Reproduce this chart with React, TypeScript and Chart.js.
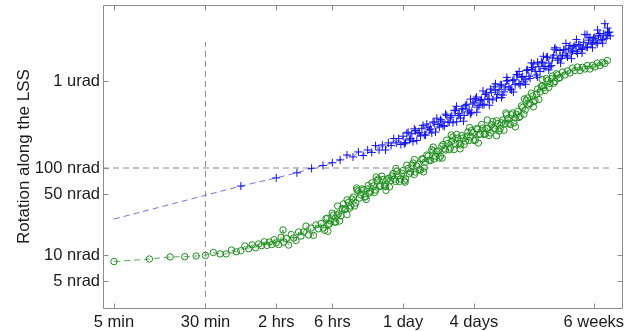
import { useEffect, useRef } from 'react';
import { Chart, registerables } from 'chart.js';

Chart.register(...registerables);

// x in minutes, y in nrad
const xTickValues = [5, 30, 120, 360, 1440, 5760, 60480];
const xTickLabels = ['5 min', '30 min', '2 hrs', '6 hrs', '1 day', '4 days', '6 weeks'];
const yTickValues = [5, 10, 50, 100, 1000];
const yTickLabels = ['5 nrad', '10 nrad', '50 nrad', '100 nrad', '1 urad'];

// blue "+" series (connected by dashed line)
const blueTimes = [
  5, 60, 120, 180, 240, 300, 360, 420, 480, 540, 600, 660, 720, 780, 840, 900, 960, 1020, 1080, 1140, 1200, 1260, 1320, 1380,
  1440, 1510, 1590, 1670, 1750, 1840, 1930, 2030, 2130, 2240, 2350, 2470, 2590, 2720, 2860, 3000, 3150, 3310, 3470, 3650,
  3830, 4020, 4220, 4430, 4650, 4880, 5130, 5380, 5650, 5940, 6230, 6540, 6870, 7220, 7580, 7960, 8350, 8770, 9210, 9670,
  10150, 10660, 11190, 11750, 12340, 12960, 13600, 14280, 15000, 15750, 16540, 17360, 18230, 19140, 20100, 21100, 22160,
  23270, 24430, 25650, 26940, 28280, 29700, 31180, 31900, 32740, 33500, 34380, 35200, 36100, 37000, 37900, 38800, 39800,
  40800, 41790, 42800, 43880, 45000, 46070, 47200, 48380, 49600, 50800, 52000, 53340, 54600, 56000, 57400, 58800, 60200,
  61740, 63200, 64830, 66400, 68070, 69700, 71480, 73200, 75050, 76900, 78800, 80400, 82000, 83500,
];
const blueValues = [
  25.9, 62, 77, 88, 99, 107, 115, 124, 141, 134, 153, 139, 161, 151, 181, 161, 184, 161, 194, 181, 218, 194, 218, 186,
  232, 196, 258, 217, 201, 269, 252, 234, 309, 239, 295, 281, 338, 259, 317, 360, 307, 416, 336, 383,
  331, 457, 402, 375, 479, 520, 441, 419, 545, 626, 500, 595, 531, 702, 619, 807, 607, 786, 703, 905,
  689, 855, 1017, 806, 1010, 908, 1180, 900, 1127, 1033, 1344, 1071, 1427, 1295, 1642, 1284, 1612,
  1470, 1891, 1454, 1835, 2410, 1735, 2240, 1820, 1953, 2300, 2278, 1980, 1886, 2380, 2556, 2100, 2217,
  2480, 2578, 2200, 2073, 2620, 2601, 2300, 2380, 2780, 3435, 2450, 2456, 2950, 3156, 2650, 2752, 3100,
  3210, 2800, 2688, 3350, 3509, 2950, 3000, 3480, 4561, 3100, 3327, 3600, 3651, 3300,
];
// further blue "+" samples inside the dense cloud
const blueCloudTimes = [
  1475, 1550, 1630, 1710, 1795, 1885, 1980, 2080, 2185, 2295, 2410, 2530, 2655, 2790, 2930, 3075, 3230, 3390, 3560, 3740,
  3925, 4120, 4325, 4540, 4765, 5005, 5255, 5515, 5795, 6085, 6385, 6705, 7045, 7400, 7770, 8155, 8560, 8990, 9440, 9910,
  10400, 10920, 11470, 12040, 12650, 13280, 13940, 14640, 15370, 16140, 16950, 17790, 18680, 19620, 20600, 21630, 22710,
  23850, 25040, 26290, 27610, 28990, 30440,
  4100, 4700, 5400, 6100, 6900, 7800, 8800, 9900, 11000, 12500, 14000, 15900, 17800, 20000, 22500, 25000, 28000, 31500,
  35000, 39000, 43000, 48000, 53000, 59000, 65000, 72000, 79000,
];
const blueCloudValues = [
  190, 252, 210, 247, 282, 207, 255, 286, 240, 320, 274, 253, 330, 374, 296, 345, 301, 401, 337, 400,
  461, 340, 421, 477, 402, 539, 464, 433, 571, 654, 522, 614, 541, 728, 618, 740, 857, 637, 795, 896,
  750, 1000, 855, 791, 1036, 1180, 936, 1101, 976, 1325, 1132, 1360, 1574, 1170, 1460, 1654, 1396,
  1870, 1610, 1502, 1982, 2269, 1807,
  512, 345, 619, 438, 768, 527, 929, 645, 1101, 746, 1285, 916, 1615, 1104, 1925, 1344, 2318, 1608,
  2705, 1808, 3005, 2087, 3400, 2407, 3856, 2720, 4063,
];

// green "o" series (connected by dashed line)
const greenTimes = [
  5, 10, 15, 20, 25, 30, 35, 40, 45, 50, 55, 60, 65, 70, 75, 80, 85, 90, 95, 100, 105, 110, 115, 120,
  126, 132, 137, 139, 146, 153, 161, 169, 177, 186, 195, 205, 215, 226, 237, 249, 261, 274, 288, 302, 318, 333, 350,
  368, 386, 405, 426, 447, 469, 493, 517, 543, 570, 599, 629, 660, 693, 728, 764, 803, 843, 885, 929, 976, 1024, 1076,
  1130, 1186, 1245, 1308, 1373, 1442, 1514, 1589, 1669, 1752, 1840, 1932, 2029, 2130, 2237, 2348, 2466, 2589, 2719,
  2855, 2997, 3147, 3305, 3470, 3643, 3826, 4017, 4218, 4429, 4650, 4883, 5127, 5383, 5652, 5935, 6232, 6543, 6871,
  7214, 7575, 7954, 8351, 8769, 9207, 9668, 10151, 10659, 11192, 11751, 12339, 12956, 13604, 14284, 14998, 15748,
  16535, 17362, 18230, 19142, 20099, 21104, 22159, 23267, 24430, 25652, 26934, 28281, 29695, 31180, 32739, 34376,
  36095, 37899, 39794, 41784, 43873, 46067, 48370, 50789, 53328, 55995, 58794, 61734, 64821, 68062, 71465, 75038, 78790,
];
const greenValues = [
  8.4, 9.0, 9.5, 9.56, 9.74, 9.9, 10.7, 10.3, 10.3, 11.4, 10.9, 11.2, 12.7, 11.8, 13.1, 12.1, 13.4, 12.8, 14.2, 12.9, 14.1, 13.2, 15.0, 13.8,
  13.2, 16.0, 19.4, 14.1, 15.5, 13.0, 17.2, 15.7, 14.7, 18.4, 16.5, 18.4, 21.5, 17.0, 20.4, 16.8, 22.2, 20.0, 23.0, 20.4, 26.1, 22.4, 24.6,
  28.8, 23.9, 29.6, 28.1, 38.6, 33.8, 40.1, 36.6, 46.4, 39.6, 54.4, 49.0, 55.9, 47.0, 62.9, 53.7, 62.1, 55.9, 74.7, 62.1, 73.8, 61.3, 75.7,
  71.8, 86.5, 70.0, 80.9, 74.7, 93.6, 74.7, 98.7, 89.9, 114, 89.9, 110, 94.8, 127, 117, 137, 122, 157, 137,
  157, 137, 186, 161, 191, 170, 227, 189, 221, 184, 221, 204, 259, 227, 253, 210, 281, 246, 288,
  246, 288, 253, 342, 281, 325, 284, 356, 325, 366, 316, 429, 376, 446, 391, 496, 464,
  638, 551, 672, 597, 809, 747, 876, 778, 1013, 936, 1141, 987, 1172, 1097, 1269, 1172,
  1303, 1236, 1411, 1320, 1448, 1320, 1437, 1374, 1508, 1374, 1508, 1448, 1610, 1508, 1632, 1589, 1720,
];
// further green "o" samples inside the dense cloud
const greenCloudTimes = [
  310, 325, 341, 359, 377, 395, 415, 436, 458, 481, 505, 530, 556, 584, 614, 644, 676, 710, 746, 783,
  823, 864, 907, 952, 1000, 1050, 1103, 1158, 1215, 1276, 1340, 1407, 1478, 1551, 1629, 1710, 1796, 1886, 1980, 2080,
  2183, 2292, 2407, 2527, 2654, 2787, 2926, 3072, 3226, 3387, 3556, 3734, 3921, 4117, 4323, 4539, 4766, 5005, 5255, 5517,
  5793, 6083, 6387, 6707, 7042, 7394, 7764, 8152, 8560, 8988, 9437, 9910, 10405, 10925, 11471, 12045, 12647, 13280, 13944,
  14641, 15373, 16141, 16948, 17796, 18686, 19620, 20601, 21631, 22713, 23848, 25041, 26293, 27607, 28988, 30437,
  330, 400, 480, 580, 700, 850, 1030, 1250, 1500, 1800, 2150, 2600, 3100, 3700, 4400, 5300, 6300, 7500, 9000, 10800,
  13000, 15500, 18500, 22000,
];
const greenCloudValues = [
  19.2, 26.5, 22.8, 30.4, 23.9, 28.8, 24.6, 34.2, 33.3, 43.1, 34.5, 44.0, 36.6, 55.9, 45.2, 57.4, 46.2, 57.4, 51.6, 67.6,
  52.3, 71.8, 61.3, 80.5, 62.1, 72.8, 60.5, 80.9, 74.7, 91.9, 70.0, 87.1, 71.3, 108, 85.8, 107, 84.2, 105, 95.3, 127,
  100, 141, 123, 162, 127, 153, 130, 178, 166, 209, 162, 202, 163, 243, 191, 236, 186, 230, 207, 270,
  207, 284, 243, 316, 243, 284, 236, 314, 287, 349, 266, 331, 272, 409, 327, 409, 329, 415, 381,
  516, 415, 597, 532, 724, 577, 705, 613, 865, 835, 1068, 842, 1060, 943, 1210, 1077,
  18.7, 36.6, 29.1, 58.9, 43.5, 78.9, 55.3, 98.8, 68.8, 125, 90.1, 174, 130, 240, 166, 292, 194, 357, 235, 429,
  297, 622, 504, 1041,
];

const refLevel = 100; // nrad horizontal reference
const refTime = 30; // minutes vertical reference

const X_MIN = 4.03;
const X_MAX = 105000;
const Y_MIN = 2.46;
const Y_MAX = 7474;

const FONT = "'Liberation Sans', Arial, Helvetica, sans-serif";
const BLUE = '#1010f0';
const GREEN = '#1c8f1c';

const boxPlugin = {
  id: 'matlabBox',
  afterDraw(chart: any) {
    const { ctx, chartArea: a, scales } = chart;
    const xs = scales.x;
    const ys = scales.y;
    ctx.save();
    ctx.strokeStyle = '#8c8c8c';
    ctx.lineWidth = 1;
    const L = Math.round(a.left) + 0.5;
    const R = Math.round(a.right) + 0.5;
    const T = Math.round(a.top) + 0.5;
    const B = Math.round(a.bottom) + 0.5;
    ctx.beginPath();
    ctx.rect(L, T, R - L, B - T);
    const tl = 5;
    xTickValues.forEach((v) => {
      const p = Math.round(xs.getPixelForValue(v)) + 0.5;
      ctx.moveTo(p, B);
      ctx.lineTo(p, B - tl);
      ctx.moveTo(p, T);
      ctx.lineTo(p, T + tl);
    });
    yTickValues.forEach((v) => {
      const p = Math.round(ys.getPixelForValue(v)) + 0.5;
      ctx.moveTo(L, p);
      ctx.lineTo(L + tl, p);
      ctx.moveTo(R, p);
      ctx.lineTo(R - tl, p);
    });
    ctx.stroke();
    ctx.restore();
  },
};

const zip = (xs: number[], ys: number[]) => xs.map((x, i) => ({ x, y: ys[i] }));

export default function App() {
  const ref = useRef<HTMLCanvasElement>(null);
  useEffect(() => {
    const refLineStyle = {
      showLine: true,
      borderColor: '#8a8a8a',
      borderWidth: 1,
      borderDash: [6, 4],
      pointRadius: 0,
    };
    const crossStyle = {
      pointStyle: 'cross',
      pointBorderColor: BLUE,
      pointBorderWidth: 1,
    };
    const circleStyle = {
      pointStyle: 'circle',
      pointRadius: 3.2,
      pointBorderColor: GREEN,
      pointBackgroundColor: 'rgba(0,0,0,0)',
      pointBorderWidth: 1,
    };
    const chart = new Chart(ref.current as HTMLCanvasElement, {
      type: 'scatter',
      data: {
        datasets: [
          { ...refLineStyle, data: [{ x: X_MIN, y: refLevel }, { x: 86000, y: refLevel }] },
          { ...refLineStyle, data: [{ x: refTime, y: 3.3 }, { x: refTime, y: 2800 }] },
          {
            ...crossStyle,
            data: zip(blueTimes, blueValues),
            showLine: true,
            borderColor: 'rgba(100,100,215,0.9)',
            borderWidth: 1,
            borderDash: [6, 4],
            pointRadius: (c: any) => (c.dataIndex === 0 ? 0 : 4),
          },
          { ...crossStyle, data: zip(blueCloudTimes, blueCloudValues), showLine: false, pointRadius: 4 },
          {
            ...circleStyle,
            data: zip(greenTimes, greenValues),
            showLine: true,
            borderColor: 'rgba(70,160,70,0.9)',
            borderWidth: 1,
            borderDash: [6, 4],
          },
          { ...circleStyle, data: zip(greenCloudTimes, greenCloudValues), showLine: false },
        ] as any,
      },
      options: {
        responsive: false,
        animation: false,
        layout: { padding: { top: 5, right: 11, left: 0, bottom: 0 } },
        plugins: { legend: { display: false }, tooltip: { enabled: false } },
        scales: {
          x: {
            type: 'logarithmic',
            min: X_MIN,
            max: X_MAX,
            afterBuildTicks: (s: any) => {
              s.ticks = xTickValues.map((v) => ({ value: v }));
            },
            afterFit: (s: any) => {
              s.height = 23;
              s.paddingLeft = 0;
              s.paddingRight = 0;
            },
            grid: { display: false, drawTicks: false, tickLength: 0 },
            border: { display: false },
            ticks: {
              autoSkip: false,
              maxRotation: 0,
              minRotation: 0,
              padding: 5,
              color: '#1a1a1a',
              font: { family: FONT, size: 16.5 },
              callback: (_v: any, i: number) => xTickLabels[i],
            },
          },
          y: {
            type: 'logarithmic',
            min: Y_MIN,
            max: Y_MAX,
            afterBuildTicks: (s: any) => {
              s.ticks = yTickValues.map((v) => ({ value: v }));
            },
            afterFit: (s: any) => {
              s.width = 103;
              s.paddingTop = 0;
              s.paddingBottom = 0;
            },
            grid: { display: false, drawTicks: false, tickLength: 0 },
            border: { display: false },
            ticks: {
              autoSkip: false,
              padding: 3,
              color: '#1a1a1a',
              font: { family: FONT, size: 16.5 },
              callback: (_v: any, i: number) => yTickLabels[i],
            },
            title: {
              display: true,
              text: 'Rotation along the LSS',
              color: '#1a1a1a',
              font: { family: FONT, size: 17 },
              padding: { top: 14, bottom: 0 },
            },
          },
        },
      },
      plugins: [boxPlugin],
    });
    return () => chart.destroy();
  }, []);
  return (
    <div style={{ position: 'fixed', left: 0, top: 0, width: 633, height: 331, background: '#fff' }}>
      <canvas ref={ref} width={633} height={331} style={{ display: 'block' }} />
    </div>
  );
}
